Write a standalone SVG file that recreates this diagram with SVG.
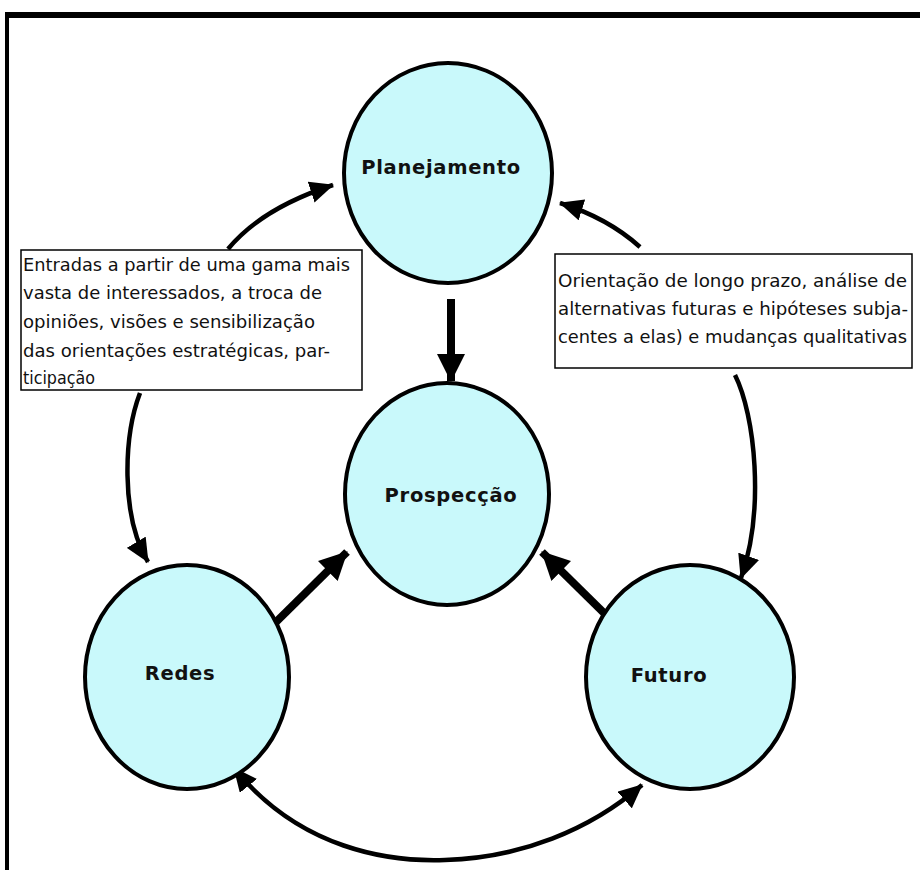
<svg xmlns="http://www.w3.org/2000/svg" width="920" height="870" viewBox="0 0 920 870">
  <style>
    .node ellipse { fill: #c9f9fb; stroke: #000; stroke-width: 4; }
    .node text { font-family: "DejaVu Sans", Verdana, sans-serif; font-weight: bold; font-size: 19.5px; letter-spacing: 0.7px; fill: #111; text-anchor: middle; }
    .note rect { fill: #fff; stroke: #000; stroke-width: 1.5; }
    .note text { font-family: "DejaVu Sans Condensed", "DejaVu Sans", sans-serif; font-stretch: condensed; font-size: 18.5px; fill: #111; }
    .thin { fill: none; stroke: #000; stroke-width: 4.5; }
    .thick { fill: none; stroke: #000; stroke-width: 8; }
  </style>
  <defs>
    <marker id="headThin" markerUnits="userSpaceOnUse" viewBox="0 0 24 22" refX="23" refY="11" markerWidth="24" markerHeight="22" orient="auto-start-reverse">
      <path d="M0,0 L24,11 L0,22 Z" fill="#000"/>
    </marker>
    <marker id="headThick" markerUnits="userSpaceOnUse" viewBox="0 0 28 28" refX="27" refY="14" markerWidth="28" markerHeight="28" orient="auto">
      <path d="M0,0 L28,14 L0,28 Z" fill="#000"/>
    </marker>
  </defs>

  <rect width="920" height="870" fill="#fff"/>

  <!-- frame: top and left edges -->
  <g id="frame">
    <rect x="5" y="12" width="915" height="6" fill="#000"/>
    <rect x="5" y="12" width="4" height="858" fill="#000"/>
  </g>

  <!-- connectors -->
  <g id="connectors">
    <line class="thick" x1="451" y1="299" x2="451" y2="381" marker-end="url(#headThick)"/>
    <line class="thick" x1="274" y1="624" x2="347" y2="552" marker-end="url(#headThick)"/>
    <line class="thick" x1="605" y1="614" x2="542" y2="552" marker-end="url(#headThick)"/>
    <path class="thin" d="M228,249 Q262,208 333,185" marker-end="url(#headThin)"/>
    <path class="thin" d="M640,247 Q608,218 560,203" marker-end="url(#headThin)"/>
    <path class="thin" d="M140,393 C124,435 120,515 148,562" marker-end="url(#headThin)"/>
    <path class="thin" d="M735,375 C755,415 765,510 741,578" marker-end="url(#headThin)"/>
    <path class="thin" d="M234,768 C300,850 390,862 445,860 C520,858 590,830 642,785" marker-start="url(#headThin)" marker-end="url(#headThin)"/>
  </g>

  <g id="planejamento" class="node">
    <ellipse cx="448" cy="173" rx="104" ry="110"/>
    <text x="441" y="174">Planejamento</text>
  </g>

  <g id="prospeccao" class="node">
    <ellipse cx="447" cy="494" rx="102" ry="111"/>
    <text x="451" y="502">Prospecção</text>
  </g>

  <g id="redes" class="node">
    <ellipse cx="187" cy="677" rx="102" ry="112"/>
    <text x="180" y="680">Redes</text>
  </g>

  <g id="futuro" class="node">
    <ellipse cx="690" cy="677" rx="104" ry="112"/>
    <text x="669" y="682">Futuro</text>
  </g>

  <g id="note-left" class="note">
    <rect x="21" y="250" width="341" height="140"/>
    <text x="23" y="271" textLength="327" lengthAdjust="spacingAndGlyphs">Entradas a partir de uma gama mais</text>
    <text x="23" y="299" textLength="299" lengthAdjust="spacingAndGlyphs">vasta de interessados, a troca de</text>
    <text x="23" y="328" textLength="292" lengthAdjust="spacingAndGlyphs">opiniões, visões e sensibilização</text>
    <text x="23" y="357" textLength="307" lengthAdjust="spacingAndGlyphs">das orientações estratégicas, par-</text>
    <text x="23" y="384" textLength="72" lengthAdjust="spacingAndGlyphs">ticipação</text>
  </g>

  <g id="note-right" class="note">
    <rect x="555" y="254" width="357" height="114"/>
    <text x="558" y="287" textLength="349" lengthAdjust="spacingAndGlyphs">Orientação de longo prazo, análise de</text>
    <text x="558" y="315" textLength="350" lengthAdjust="spacingAndGlyphs">alternativas futuras e hipóteses subja-</text>
    <text x="558" y="343" textLength="349" lengthAdjust="spacingAndGlyphs">centes a elas) e mudanças qualitativas</text>
  </g>
</svg>
